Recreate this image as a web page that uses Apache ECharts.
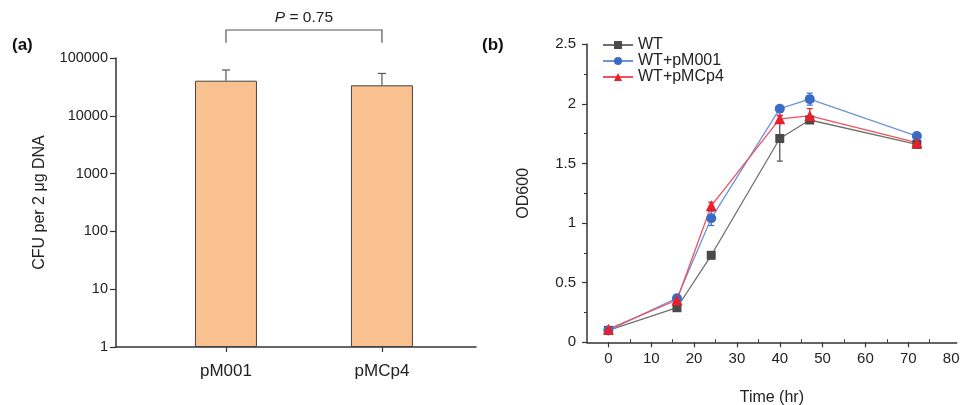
<!DOCTYPE html>
<html>
<head>
<meta charset="utf-8">
<script src="https://cdn.jsdelivr.net/npm/echarts@6/dist/echarts.min.js"></script>
<style>
html,body{margin:0;padding:0;background:#fff;}
#chart{width:963px;height:405px;}
</style>
</head>
<body>
<div id="chart"></div>
<script>
// ---- Panel (a) data ----
const catLabels = ['pM001', 'pMCp4'];
const catPos = [1, 2];
const cfuMean = [40500, 33700];
const cfuErrTop = [62000, 54000];
const logTicks = [1, 10, 100, 1000, 10000, 100000];
const bracketEnds = [183000, 305000];   // bracket foot / bracket top (CFU units)
const pLabelY = 505000;
const pValue = '0.75';

// ---- Panel (b) data ----
const timeHr = [0, 16, 24, 40, 47, 72];
const odWT = [0.10, 0.29, 0.73, 1.71, 1.865, 1.66];
const odWTErr = [0.01, 0.02, 0.03, 0.19, 0.02, 0.02];
const odPM001 = [0.10, 0.37, 1.04, 1.96, 2.04, 1.73];
const odPM001Err = [0.01, 0.02, 0.06, 0.02, 0.05, 0.01];
const odPMCp4 = [0.11, 0.355, 1.145, 1.875, 1.90, 1.675];
const odPMCp4Err = [0.02, 0.02, 0.03, 0.03, 0.06, 0.02];
const timeLabels = [0, 10, 20, 30, 40, 50, 60, 70, 80];
const timeMajorTicks = [0, 10, 20, 30, 40, 50, 60, 70];
const timeMinorTicks = [5, 15, 25, 35, 45, 55, 65, 75];
const seriesNames = ['WT', 'WT+pM001', 'WT+pMCp4'];

const FONT = 'Liberation Sans, Arial, sans-serif';
const AX = '#333';
const TXT = '#222';

function errSeries(name, xIdx, yIdx, xs, ys, es, color, cap, upOnly) {
  return {
    type: 'custom', name: name, xAxisIndex: xIdx, yAxisIndex: yIdx, clip: false, z: 3,
    data: xs.map((x, i) => [x, ys[i], es[i]]),
    renderItem: function (params, api) {
      const x = api.value(0), y = api.value(1), e = api.value(2);
      const top = upOnly ? api.coord([x, e]) : api.coord([x, y + e]);
      const bot = upOnly ? api.coord([x, y]) : api.coord([x, y - e]);
      const st = { stroke: color, lineWidth: 1.2 };
      const ch = [
        { type: 'line', shape: { x1: top[0], y1: top[1], x2: bot[0], y2: bot[1] }, style: st },
        { type: 'line', shape: { x1: top[0] - cap, y1: top[1], x2: top[0] + cap, y2: top[1] }, style: st }
      ];
      if (!upOnly) ch.push({ type: 'line', shape: { x1: bot[0] - cap, y1: bot[1], x2: bot[0] + cap, y2: bot[1] }, style: st });
      return { type: 'group', children: ch };
    }
  };
}

const chart = echarts.init(document.getElementById('chart'), null, { renderer: 'canvas' });

const lineColors = [
  { line: '#707070', mark: '#4a4a4a', sym: 'rect', size: 9 },
  { line: '#6d94d8', mark: '#3a6cc6', sym: 'circle', size: 10 },
  { line: '#f0505c', mark: '#e8202a', sym: 'triangle', size: 11 }
];
const odData = [odWT, odPM001, odPMCp4];
const odErr = [odWTErr, odPM001Err, odPMCp4Err];

const option = {
  animation: false,
  textStyle: { fontFamily: FONT },
  title: [
    { text: '(a)', left: 7, top: 32, textStyle: { fontFamily: FONT, fontWeight: 'bold', fontSize: 17, color: '#111' } },
    { text: '(b)', left: 477, top: 32, textStyle: { fontFamily: FONT, fontWeight: 'bold', fontSize: 17, color: '#111' } }
  ],
  legend: {
    data: seriesNames, orient: 'vertical', left: 597, top: 32,
    itemWidth: 30, itemHeight: 10, itemGap: 0,
    textStyle: { fontFamily: FONT, fontSize: 16, color: TXT, padding: [0, 0, 0, 0] }
  },
  grid: [
    { left: 116, top: 58, width: 360, height: 289, containLabel: false, outerBoundsMode: 'none' },
    { left: 587, top: 44.3, width: 369.7, height: 298, containLabel: false, outerBoundsMode: 'none' }
  ],
  xAxis: [
    {
      gridIndex: 0, type: 'value', min: 0.295, max: 2.603,
      axisLine: { lineStyle: { color: AX, width: 1.5 } },
      axisTick: { show: true, customValues: catPos, length: 5, lineStyle: { color: AX, width: 1.2 } },
      axisLabel: { customValues: catPos, margin: 16, fontSize: 17, color: TXT,
        formatter: v => catLabels[catPos.indexOf(Math.round(v))] || '' },
      splitLine: { show: false }
    },
    {
      gridIndex: 1, type: 'value', min: -5, max: 81.3,
      name: 'Time (hr)', nameLocation: 'middle', nameGap: 47,
      nameTextStyle: { fontSize: 16, color: TXT, fontFamily: FONT },
      axisLine: { onZero: false, lineStyle: { color: AX, width: 1.5 } },
      axisTick: { show: true, customValues: timeMajorTicks, length: 5, lineStyle: { color: AX, width: 1.2 } },
      axisLabel: { customValues: timeLabels, margin: 9, fontSize: 15, color: TXT },
      splitLine: { show: false }
    },
    {
      gridIndex: 1, type: 'value', min: -5, max: 81.3,
      axisLine: { show: false },
      axisTick: { show: true, customValues: timeMinorTicks, length: 3, lineStyle: { color: AX, width: 1 } },
      axisLabel: { show: false }, splitLine: { show: false }
    }
  ],
  yAxis: [
    {
      gridIndex: 0, type: 'log', logBase: 10, min: 1, max: 100000,
      name: 'CFU per 2 μg DNA', nameLocation: 'middle', nameGap: 68,
      nameTextStyle: { fontSize: 16, color: TXT, fontFamily: FONT },
      axisLine: { show: true, lineStyle: { color: AX, width: 1.5 } },
      axisTick: { show: true, length: 6, lineStyle: { color: AX, width: 1.2 } },
      axisLabel: { margin: 8, fontSize: 14.5, color: TXT, formatter: v => String(Math.round(v)) },
      splitLine: { show: false }
    },
    {
      gridIndex: 1, type: 'value', min: 0, max: 2.5, interval: 0.5,
      name: 'OD600', nameLocation: 'middle', nameGap: 55,
      nameTextStyle: { fontSize: 16, color: TXT, fontFamily: FONT },
      axisLine: { show: true, onZero: false, lineStyle: { color: AX, width: 1.5 } },
      axisTick: { show: true, length: 5, lineStyle: { color: AX, width: 1.2 } },
      minorTick: { show: true, splitNumber: 2, length: 3, lineStyle: { color: AX, width: 1 } },
      axisLabel: { margin: 11, fontSize: 15, color: TXT },
      splitLine: { show: false }, minorSplitLine: { show: false }
    }
  ],
  series: [
    {
      type: 'bar', name: 'cfu', xAxisIndex: 0, yAxisIndex: 0, barWidth: 62, z: 2,
      data: catPos.map((x, i) => [x, cfuMean[i]]),
      itemStyle: { color: '#f9c090', borderColor: '#444', borderWidth: 1 }
    },
    errSeries('cfuErr', 0, 0, catPos, cfuMean, cfuErrTop, '#555', 4, true),
    {
      type: 'custom', name: 'bracket', xAxisIndex: 0, yAxisIndex: 0, clip: false, z: 4,
      data: [[catPos[0], catPos[1]]],
      renderItem: function (params, api) {
        const a = api.value(0), b = api.value(1);
        const p1 = api.coord([a, bracketEnds[0]]), p2 = api.coord([a, bracketEnds[1]]);
        const p3 = api.coord([b, bracketEnds[1]]), p4 = api.coord([b, bracketEnds[0]]);
        const pt = api.coord([(a + b) / 2, pLabelY]);
        return { type: 'group', children: [
          { type: 'polyline', shape: { points: [p1, p2, p3, p4] }, style: { stroke: '#555', lineWidth: 1.2, fill: null } },
          { type: 'text', x: pt[0], y: pt[1], style: {
              text: '{i|P} = ' + pValue, align: 'center', verticalAlign: 'middle',
              fontFamily: FONT, fontSize: 15.5, fill: TXT,
              rich: { i: { fontStyle: 'italic', fontFamily: FONT, fontSize: 15.5, fill: TXT, color: TXT } } } }
        ] };
      }
    }
  ].concat(
    seriesNames.map((nm, k) => errSeries(nm + '_err', 1, 1, timeHr, odData[k], odErr[k], lineColors[k].mark, 3, false))
  ).concat(
    seriesNames.map((nm, k) => ({
      type: 'line', name: nm, xAxisIndex: 1, yAxisIndex: 1, z: 5,
      data: timeHr.map((t, i) => [t, odData[k][i]]),
      symbol: lineColors[k].sym, symbolSize: lineColors[k].size, showSymbol: true,
      lineStyle: { color: lineColors[k].line, width: 1.3 },
      itemStyle: { color: lineColors[k].mark }
    }))
  )
};
chart.setOption(option);
</script>
</body>
</html>
